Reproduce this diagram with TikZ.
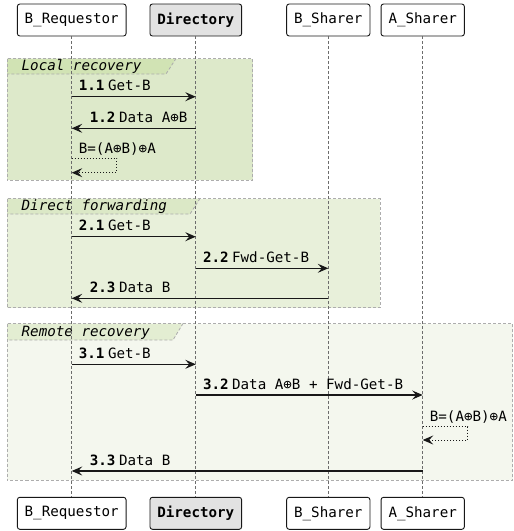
\documentclass[tikz,border=0pt]{standalone}
\usepackage{fontspec}
\setmonofont{DejaVu Sans Mono}
\usetikzlibrary{arrows.meta}

\definecolor{gOneBody}{HTML}{DDE9CA}
\definecolor{gOneTab}{HTML}{D1E3B4}
\definecolor{gTwoBody}{HTML}{E8F0DA}
\definecolor{gTwoTab}{HTML}{DBE8C6}
\definecolor{gThreeBody}{HTML}{F4F7EE}
\definecolor{gThreeTab}{HTML}{E3EDD2}
\definecolor{partFill}{HTML}{E2E2E2}
\definecolor{inkDark}{HTML}{181818}

\tikzset{
  participant/.style={draw=inkDark, line width=0.9pt, rounded corners=2.5pt,
    fill=white, minimum height=32pt, inner sep=0pt},
  lifeline/.style={draw=gray!85!black, line width=0.7pt, dash pattern=on 2.5pt off 2.5pt},
  groupline/.style={draw=black!32, line width=0.8pt, dash pattern=on 3pt off 2pt},
  grouptitle/.style={anchor=base west, inner sep=0pt, font=\ttfamily\itshape\fontsize{14.2}{16}\selectfont},
  msg/.style={draw=inkDark, line width=1.1pt,
    -{Stealth[length=10.5pt,width=9pt,inset=4pt]}},
  selfmsg/.style={draw=inkDark, line width=1pt, dotted,
    -{Stealth[length=10.5pt,width=9pt,inset=4pt]}},
  msglabel/.style={anchor=base west, inner sep=0pt},
}
\newcommand{\seqno}[1]{{\bfseries #1}\hspace{3.5pt}}

\begin{document}
\begin{tikzpicture}[x=1pt, y=-1pt, font=\ttfamily\fontsize{14.2}{16}\selectfont]
\useasboundingbox (0,0) rectangle (514,531);

% ---- groups ----
% Local recovery
\fill[gOneBody] (7,58.5) rectangle (252.5,180);
\fill[gOneTab] (7,58.5) -- (176,58.5) -- (166,74) -- (7,74) -- cycle;
\draw[groupline] (7,58.5) rectangle (252.5,180);
\draw[groupline] (176,58.5) -- (166,74) -- (7,74);
\node[grouptitle] (tLocal) at (21.5,70) {Local recovery};

% Direct forwarding
\fill[gTwoBody] (7,198.5) rectangle (380,307.5);
\fill[gTwoTab] (7,198.5) -- (200,198.5) -- (190,214) -- (7,214) -- cycle;
\draw[groupline] (7,198.5) rectangle (380,307.5);
\draw[groupline] (200,198.5) -- (190,214) -- (7,214);
\node[grouptitle] (tDirect) at (21.5,210) {Direct forwarding};

% Remote recovery
\fill[gThreeBody] (7,323.5) rectangle (512.5,480);
\fill[gThreeTab] (7,323.5) -- (183,323.5) -- (173,340) -- (7,340) -- cycle;
\draw[groupline] (7,323.5) rectangle (512.5,480);
\draw[groupline] (183,323.5) -- (173,340) -- (7,340);
\node[grouptitle] (tRemote) at (21.5,336) {Remote recovery};

% ---- participants ----
\node[participant, minimum width=108.7pt] (rq)  at (71.7,20) {B\_Requestor};
\node[participant, minimum width=91.7pt, fill=partFill] (dir) at (195.8,20) {\bfseries Directory};
\node[participant, minimum width=83.3pt] (bs)  at (328.3,20) {B\_Sharer};
\node[participant, minimum width=83.3pt] (as)  at (422.7,20) {A\_Sharer};

\node[participant, minimum width=108.7pt] (rqB)  at (71.7,513.3) {B\_Requestor};
\node[participant, minimum width=91.7pt, fill=partFill] (dirB) at (195.8,513.3) {\bfseries Directory};
\node[participant, minimum width=83.3pt] (bsB)  at (328.3,513.3) {B\_Sharer};
\node[participant, minimum width=83.3pt] (asB)  at (422.7,513.3) {A\_Sharer};

% ---- lifelines ----
\draw[lifeline] (rq.south) -- (rqB.north);
\draw[lifeline] (dir.south) -- (dirB.north);
\draw[lifeline] (bs.south) -- (bsB.north);
\draw[lifeline] (as.south) -- (asB.north);

% ---- message anchor points on the lifelines ----
\foreach \name/\y in {a/96.7, b/128.3, c/236.7, d/268.3, e/298.3, f/364.3, g/395, h/471}{
  \coordinate (rq\name)  at (rq.center  |- 0,\y);
  \coordinate (dir\name) at (dir.center |- 0,\y);
  \coordinate (bs\name)  at (bs.center  |- 0,\y);
  \coordinate (as\name)  at (as.center  |- 0,\y);
}

% Local recovery messages
\draw[msg] (rqa) -- (dira);
\node[msglabel] (l11) at ([xshift=7pt,yshift=6pt]rqa) {\seqno{1.1}Get-B};
\draw[msg] (dirb) -- (rqb);
\node[msglabel] (l12) at ([xshift=18pt,yshift=6pt]rqb) {\seqno{1.2}Data A⊕B};
\coordinate (s1a) at (rq.center |- 0,158.3);
\coordinate (s1b) at (116.7,158.3);
\coordinate (s1c) at (116.7,172.7);
\coordinate (s1d) at (rq.center |- 0,172.7);
\node[msglabel] (ls1) at ([xshift=7pt,yshift=5pt]s1a) {B=(A⊕B)⊕A};
\draw[selfmsg] (s1a) -- (s1b) -- (s1c) -- (s1d);

% Direct forwarding messages
\draw[msg] (rqc) -- (dirc);
\node[msglabel] (l21) at ([xshift=7pt,yshift=6pt]rqc) {\seqno{2.1}Get-B};
\draw[msg] (dird) -- (bsd);
\node[msglabel] (l22) at ([xshift=7pt,yshift=6pt]dird) {\seqno{2.2}Fwd-Get-B};
\draw[msg] (bse) -- (rqe);
\node[msglabel] (l23) at ([xshift=18pt,yshift=6pt]rqe) {\seqno{2.3}Data B};

% Remote recovery messages
\draw[msg] (rqf) -- (dirf);
\node[msglabel] (l31) at ([xshift=7pt,yshift=6pt]rqf) {\seqno{3.1}Get-B};
\draw[msg] (dirg) -- (asg);
\node[msglabel] (l32) at ([xshift=7pt,yshift=6pt]dirg) {\seqno{3.2}Data A⊕B + Fwd-Get-B};
\coordinate (s2a) at (as.center |- 0,426.7);
\coordinate (s2b) at (467.7,426.7);
\coordinate (s2c) at (467.7,440);
\coordinate (s2d) at (as.center |- 0,440);
\node[msglabel] (ls2) at ([xshift=7pt,yshift=5pt]s2a) {B=(A⊕B)⊕A};
\draw[selfmsg] (s2a) -- (s2b) -- (s2c) -- (s2d);
\draw[msg] (ash) -- (rqh);
\node[msglabel] (l33) at ([xshift=18pt,yshift=6pt]rqh) {\seqno{3.3}Data B};
\end{tikzpicture}
\end{document}
